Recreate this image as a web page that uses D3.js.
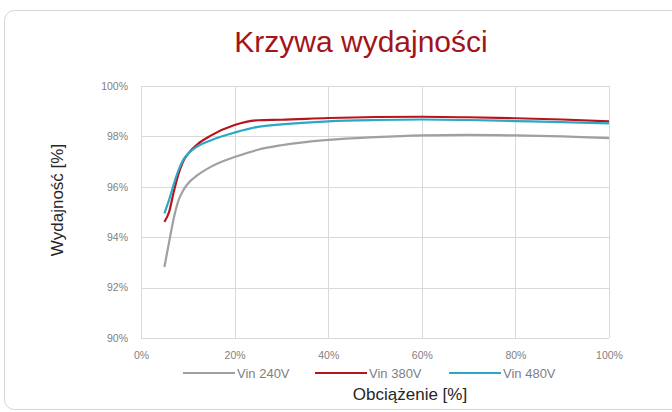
<!DOCTYPE html>
<html>
<head>
  <meta charset="utf-8">
  <script src="https://d3js.org/d3.v7.min.js"></script>
  <style>
    body { margin: 0; background: #fff; }
    svg { display: block; font-family: "Liberation Sans", Arial, sans-serif; }
    .tick text { fill: #7f7f7f; font-size: 10.5px; }
    .grid line { stroke: #d9d9d9; stroke-width: 1; }
    .legend text { fill: #7f7f7f; font-size: 13px; }
  </style>
</head>
<body>
  <script>

    // load (%) on the x axis
    var load = [5, 6, 7, 8, 9, 10, 12, 15, 20, 25, 30, 40, 50, 60, 70, 80, 90, 100];

    // efficiency (%) per input voltage
    var vin240 = [92.82, 93.8, 94.75, 95.45, 95.85, 96.12, 96.45, 96.8, 97.18, 97.47, 97.65, 97.86, 97.97, 98.04, 98.06, 98.04, 98.0, 97.93];
    var vin380 = [94.61, 95.0, 95.8, 96.5, 97.0, 97.3, 97.68, 98.04, 98.45, 98.64, 98.66, 98.73, 98.77, 98.78, 98.76, 98.72, 98.67, 98.6];
    var vin480 = [94.95, 95.48, 96.1, 96.65, 97.06, 97.3, 97.6, 97.85, 98.15, 98.38, 98.48, 98.6, 98.65, 98.67, 98.65, 98.61, 98.57, 98.52];

    var seriesNames = ["Vin 240V", "Vin 380V", "Vin 480V"];
    var seriesColors = ["#a0a0a0", "#b8141c", "#2aa8c6"];

    var xTicks = [0, 20, 40, 60, 80, 100];
    var yTicks = [90, 92, 94, 96, 98, 100];

    var W = 672, H = 412;
    var margin = {top: 86, right: 63, bottom: 74, left: 141},
        width = W - margin.left - margin.right,
        height = H - margin.top - margin.bottom;

    var svg = d3.select("body").append("svg")
        .attr("width", W)
        .attr("height", H);

    // card background
    svg.append("rect")
        .attr("x", 4.5).attr("y", 10.5)
        .attr("width", 690).attr("height", 399)
        .attr("rx", 10)
        .attr("fill", "#fff")
        .attr("stroke", "#d6d6d6");

    svg.append("text")
        .attr("x", 361).attr("y", 52)
        .attr("text-anchor", "middle")
        .attr("fill", "#a3141a")
        .style("font-size", "30px")
        .text("Krzywa wydajności");

    var g = svg.append("g")
        .attr("transform", "translate(" + margin.left + "," + margin.top + ")");

    var x = d3.scaleLinear().domain([0, 100]).range([0, width]);
    var y = d3.scaleLinear().domain([90, 100]).range([height, 0]);

    // gridlines
    g.append("g").attr("class", "grid")
      .selectAll("line.h").data(yTicks).enter().append("line")
        .attr("x1", 0).attr("x2", width)
        .attr("y1", function(d) { return Math.round(y(d)) + 0.5; })
        .attr("y2", function(d) { return Math.round(y(d)) + 0.5; });

    g.append("g").attr("class", "grid")
      .selectAll("line.v").data(xTicks).enter().append("line")
        .attr("y1", 0).attr("y2", height)
        .attr("x1", function(d) { return Math.round(x(d)) + 0.5; })
        .attr("x2", function(d) { return Math.round(x(d)) + 0.5; });

    // axes (labels only)
    var xAxis = g.append("g")
        .attr("transform", "translate(0," + height + ")")
        .call(d3.axisBottom(x).tickValues(xTicks).tickSize(0).tickPadding(14)
          .tickFormat(function(d) { return d + "%"; }));
    xAxis.select(".domain").remove();

    var yAxis = g.append("g")
        .call(d3.axisLeft(y).tickValues(yTicks).tickSize(0).tickPadding(13)
          .tickFormat(function(d) { return d + "%"; }));
    yAxis.select(".domain").remove();

    // lines
    var data = [vin240, vin380, vin480];
    var line = d3.line()
        .x(function(d, i) { return x(load[i]); })
        .y(function(d) { return y(d); })
        .curve(d3.curveMonotoneX);

    g.selectAll("path.series").data(data).enter().append("path")
        .attr("class", "series")
        .attr("fill", "none")
        .attr("stroke", function(d, i) { return seriesColors[i]; })
        .attr("stroke-width", 2.2)
        .attr("d", line);

    // legend
    var legendX = [183, 315, 449];
    var legend = svg.append("g").attr("class", "legend")
      .selectAll("g").data(seriesNames).enter().append("g")
        .attr("transform", function(d, i) { return "translate(" + legendX[i] + ",373)"; });
    legend.append("line")
        .attr("x1", 0).attr("x2", 52)
        .attr("stroke", function(d, i) { return seriesColors[i]; })
        .attr("stroke-width", 2.2);
    legend.append("text")
        .attr("x", 54).attr("y", 4.5)
        .text(function(d) { return d; });

    // axis titles
    svg.append("text")
        .attr("x", 410).attr("y", 400)
        .attr("text-anchor", "middle")
        .attr("fill", "#262626")
        .style("font-size", "17px")
        .text("Obciążenie [%]");

    svg.append("text")
        .attr("transform", "translate(63,200) rotate(-90)")
        .attr("text-anchor", "middle")
        .attr("fill", "#262626")
        .style("font-size", "17px")
        .text("Wydajność [%]");

  </script>
</body>
</html>
